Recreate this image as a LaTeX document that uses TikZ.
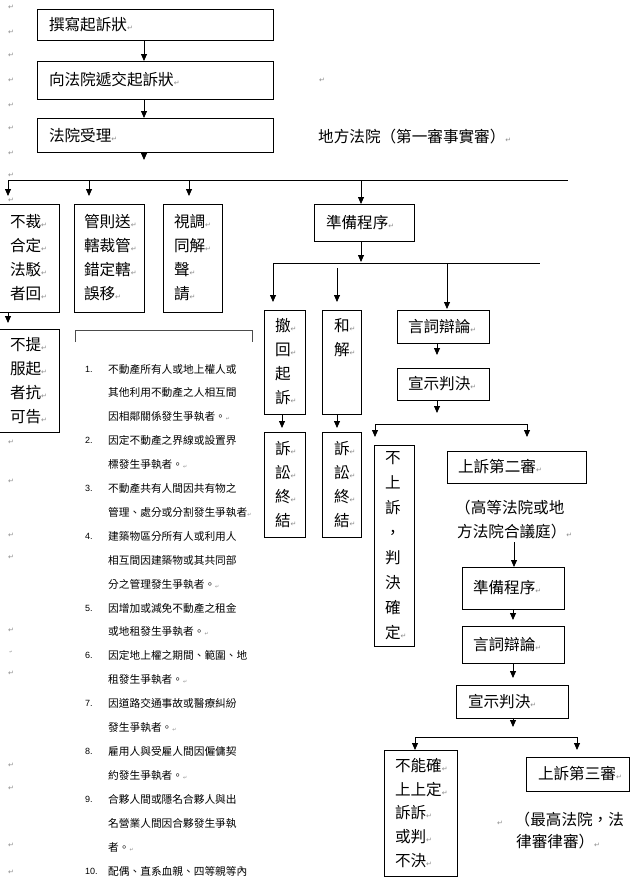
\documentclass[tikz,border=0pt]{standalone}
\usepackage{fontspec}
\setmainfont{Noto Sans CJK TC}
\newfontfamily\retf{DejaVu Sans}
\newfontfamily\numf{Liberation Sans}
\usetikzlibrary{arrows.meta,calc}
\newcommand\rt{{\retf\fontsize{7}{7}\selectfont\textcolor{black!45}{↵}}}
\newcommand\rts{{\retf\fontsize{5}{5}\selectfont\textcolor{black!45}{↵}}}
\newcommand\bfs{\fontsize{15.6}{24}\selectfont}
\newcommand\lfs{\fontsize{10.7}{13}\selectfont}
% optional opts, name, x1, y1, x2, y2, left pad, text
\newcommand\bx[8][]{%
  \pgfmathsetmacro\bw{#5-#3}\pgfmathsetmacro\bh{#6-#4}\pgfmathsetmacro\tw{\bw-2*#7}%
  \node[bx,minimum width=\bw pt,minimum height=\bh pt,inner xsep=#7 pt,text width=\tw pt,#1] (#2) at ({(#3+#5)/2},{(#4+#6)/2}) {#8};}
\begin{document}
\begin{tikzpicture}[x=1pt,y=-1pt,
  bx/.style={draw,line width=0.8pt,inner ysep=0pt,outer sep=0pt,align=left,font=\bfs,anchor=center},
  arr/.style={line width=0.8pt,-{Triangle[width=6pt,length=7pt]}},
  ln/.style={line width=0.8pt},
  lt/.style={anchor=west,inner sep=0pt,font=\lfs},
  nm/.style={anchor=west,inner sep=0pt,font=\numf\fontsize{9}{10}\selectfont},
  tx/.style={anchor=west,inner sep=0pt,font=\bfs},
  mk/.style={anchor=center,inner sep=0pt,font=\retf\fontsize{7}{7}\selectfont,text=black!45}]
\fill[white] (0,0) rectangle (635,881);
\useasboundingbox (0,0) rectangle (635,881);

% ---- boxes ----
\bx{b1}{37}{9}{273}{40}{12}{撰寫起訴狀\rt}
\bx{b2}{37}{61}{273}{99}{12}{向法院遞交起訴狀\rt}
\bx{b3}{37}{118}{273}{152}{12}{法院受理\rt}
\bx{c1}{-1}{204}{59}{312}{11}{不裁\rt\\合定\rt\\法駁\rt\\者回\rt}
\bx{c2}{74}{204}{144}{312}{10}{管則送\rt\\轄裁管\rt\\錯定轄\rt\\誤移\rt}
\bx{c3}{163}{204}{222}{312}{11}{視調\rt\\同解\rt\\聲\rt\\請\rt}
\bx{c4}{-1}{329}{59}{432}{11}{不提\rt\\服起\rt\\者抗\rt\\可告\rt}
\bx{p1}{314}{204}{414}{241}{12}{準備程序\rt}
\bx{d1}{264}{310}{305}{414}{11}{撤\rt\\回\rt\\起\\訴\rt}
\bx{d2}{322}{310}{361}{414}{12}{和\rt\\解\rt\\\phantom{解}\\\phantom{解}}
\bx{d3}{397}{310}{489}{343}{11}{言詞辯論\rt}
\bx{d4}{397}{368}{489}{400}{11}{宣示判決\rt}
\bx{e1}{264}{432}{305}{537}{11}{訴\rt\\訟\rt\\終\rt\\結\rt}
\bx{e2}{322}{432}{361}{537}{12}{訴\rt\\訟\rt\\終\rt\\結\rt}
\bx[font=\fontsize{15.6}{24.9}\selectfont]{f1}{374}{445}{414}{646}{11}{不\\上\\訴\\，\\判\\決\\確\\定\rt}
\bx{f2}{447}{451}{586}{483}{11}{上訴第二審\rt}
\bx{g1}{462}{567}{564}{609}{11}{準備程序\rt}
\bx{g2}{462}{626}{564}{663}{11}{言詞辯論\rt}
\bx{g3}{456}{685}{568}{718}{12}{宣示判決\rt}
\bx[font=\fontsize{15.6}{23.8}\selectfont]{h1}{384}{750}{457}{876}{11}{不能確\rt\\上上定\rt\\訴訴\rt\\或判\rt\\不決\rt}
\bx{h2}{526}{757}{629}{791}{12}{上訴第三審\rt}

% ---- free texts ----
\node[tx] (n1) at (318,137) {地方法院（第一審事實審）\rt};
\node[tx] (n2a) at (455,508) {（高等法院或地};
\node[tx] (n2b) at (457,532) {方法院合議庭）\rt};
\node[mk] (n3m) at (500,823) {↵};
\node[tx] (n3a) at (514.5,820) {（最高法院，法};
\node[tx] (n3b) at (516,842) {律審律審）\rt};

% ---- connectors ----
\draw[arr] ([xshift=-11pt]b1.south) -- ([xshift=-11pt]b2.north);
\draw[arr] ([xshift=-11pt]b2.south) -- ([xshift=-11pt]b3.north);
\coordinate (b3e) at ([xshift=-11pt,yshift=-8pt]b3.south);
\draw[arr] ([xshift=-11pt]b3.south) -- (b3e);

\coordinate (TL) at (8,180); \coordinate (TR) at (568,180);
\draw[ln] (TL) -- (TR);
\draw[arr] ([xshift=-21pt,yshift=24pt]c1.north) -- ([xshift=-21pt,yshift=8pt]c1.north);
\draw[arr] ([xshift=-20pt,yshift=24pt]c2.north) -- ([xshift=-20pt,yshift=8pt]c2.north);
\draw[arr] ([xshift=-3.5pt,yshift=24pt]c3.north) -- ([xshift=-3.5pt,yshift=8pt]c3.north);
\draw[arr] ([xshift=-3pt,yshift=24pt]p1.north) -- ([xshift=-3pt]p1.north);
\draw[arr] ([xshift=-21pt]c1.south) -- ([xshift=-21pt,yshift=6pt]c4.north);

\coordinate (ML) at (273,263); \coordinate (MR) at (540,263);
\draw[arr] ([xshift=-3pt]p1.south) -- ([xshift=-3pt,yshift=-21pt]p1.south);
\draw[ln] (ML) -- (MR);
\draw[arr] ([xshift=-11.5pt,yshift=47pt]d1.north) -- ([xshift=-11.5pt,yshift=8pt]d1.north);
\draw[arr] ([xshift=-4.5pt,yshift=42pt]d2.north) -- ([xshift=-4.5pt,yshift=8pt]d2.north);
\draw[arr] ([xshift=4pt,yshift=47pt]d3.north) -- ([xshift=4pt,yshift=1pt]d3.north);
\draw[arr] ([xshift=-2.5pt]d1.south) -- ([xshift=-2.5pt,yshift=4pt]e1.north);
\draw[arr] ([xshift=-4.5pt]d2.south) -- ([xshift=-4.5pt,yshift=4pt]e2.north);
\draw[arr] ([xshift=-6pt]d3.south) -- ([xshift=-6pt,yshift=13pt]d4.north);
\coordinate (d4e) at ([xshift=-6pt,yshift=-13pt]d4.south);
\draw[arr] ([xshift=-6pt]d4.south) -- (d4e);

\coordinate (BL) at (375,424); \coordinate (BR) at (527,424);
\draw[ln] (BL) -- (BR);
\draw[arr] ([xshift=-19pt,yshift=21pt]f1.north) -- ([xshift=-19pt,yshift=8pt]f1.north);
\draw[arr] ([xshift=10.5pt,yshift=27pt]f2.north) -- ([xshift=10.5pt,yshift=14pt]f2.north);
\draw[arr] ([xshift=1pt,yshift=25pt]g1.north) -- ([xshift=1pt]g1.north);
\draw[arr] (g1.south) -- ([yshift=6pt]g2.north);
\draw[arr] (g2.south) -- ([xshift=1pt,yshift=7pt]g3.north);
\coordinate (g3e) at ([xshift=1pt,yshift=-9pt]g3.south);
\draw[arr] ([xshift=1pt]g3.south) -- (g3e);

\coordinate (CL) at (415,737); \coordinate (CR) at (577,737);
\draw[ln] (CL) -- (CR);
\draw[arr] ([xshift=-5.5pt,yshift=13pt]h1.north) -- ([xshift=-5.5pt]h1.north);
\draw[arr] ([xshift=-0.5pt,yshift=20pt]h2.north) -- ([xshift=-0.5pt,yshift=7pt]h2.north);

% ---- bracket over list ----
\draw[line width=0.8pt,black!70] (75,342) -- (75,330) -- (252,330) -- (252,342);

% ---- numbered list ----
\foreach \k/\s in {0/{不動產所有人或地上權人或},1/{其他利用不動產之人相互間},2/{因相鄰關係發生爭執者。\rts},
  3/{因定不動產之界線或設置界},4/{標發生爭執者。\rts},
  5/{不動產共有人間因共有物之},6/{管理、處分或分割發生爭執者\rts},
  7/{建築物區分所有人或利用人},8/{相互間因建築物或其共同部},9/{分之管理發生爭執者。\rts},
  10/{因增加或減免不動產之租金},11/{或地租發生爭執者。\rts},
  12/{因定地上權之期間、範圍、地},13/{租發生爭執者。\rts},
  14/{因道路交通事故或醫療糾紛},15/{發生爭執者。\rts},
  16/{雇用人與受雇人間因僱傭契},17/{約發生爭執者。\rts},
  18/{合夥人間或隱名合夥人與出},19/{名營業人間因合夥發生爭執},20/{者。\rts},
  21/{配偶、直系血親、四等親等內}}
  \node[lt] (l\k) at (108,{369+23.9*\k}) {\s};
\foreach \k/\n in {0/1.,3/2.,5/3.,7/4.,10/5.,12/6.,14/7.,16/8.,18/9.,21/10.}
  \node[nm] (num\k) at (85,{369+23.9*\k}) {\n};

% ---- paragraph marks in margin ----
\foreach \yy [count=\i] in {7,32,55,80,105,128,153,175,200,442,481,535,557,630,673,765,788,845,872}
  \node[mk] (m\i) at (11,\yy) {↵};
\node[mk] (m0) at (322,80) {↵};
\node[mk,font=\retf\fontsize{4}{4}\selectfont] (m99) at (11,652) {↵};
\end{tikzpicture}
\end{document}
